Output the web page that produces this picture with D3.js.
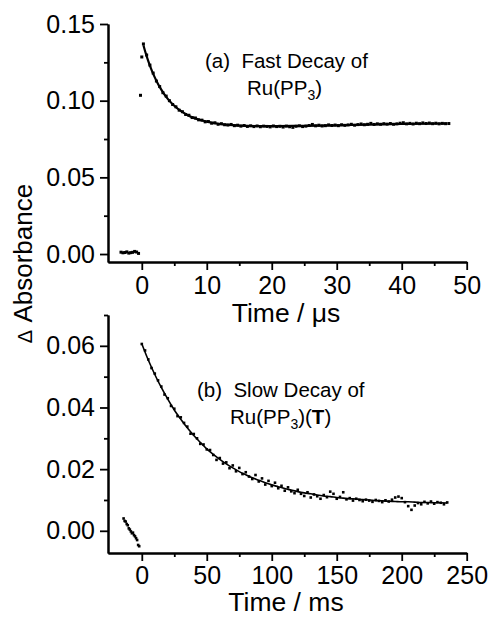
<!DOCTYPE html>
<html><head><meta charset="utf-8">
<script src="https://cdn.jsdelivr.net/npm/d3@7"></script>
<style>
body{margin:0;background:#fff}
svg{display:block;background:#fff}
text{font-family:"Liberation Sans",Arial,sans-serif;fill:#000}
</style>
</head><body>
<svg id="c" width="488" height="618"></svg>
<script>
// ---------- Panel (a): fast decay, time in microseconds ----------
const aXTicks = [0, 10, 20, 30, 40, 50];
const aXMinor = [5, 15, 25, 35, 45];
const aYTicks = [0.00, 0.05, 0.10, 0.15];
const aYMinor = [0.025, 0.075, 0.125];

const aPreT = [-3.2, -2.9, -2.6, -2.3, -2.0, -1.7, -1.4, -1.1, -0.8, -0.5];
const aPreV = [0.0012, 0.0008, 0.0010, 0.0014, 0.0006, 0.0009, 0.0011, 0.0017, 0.0013, 0.0004];
const aSpikeT = [-0.2, 0.0];
const aSpikeV = [0.1035, 0.1285];

const aT = [0.25,0.75,1.25,1.75,2.25,2.75,3.25,3.75,4.25,4.75,5.25,5.75,6.25,6.75,7.25,7.75,8.25,8.75,9.25,9.75,
  10.25,10.75,11.25,11.75,12.25,12.75,13.25,13.75,14.25,14.75,15.25,15.75,16.25,16.75,17.25,17.75,18.25,18.75,19.25,19.75,
  20.25,20.75,21.25,21.75,22.25,22.75,23.25,23.75,24.25,24.75,25.25,25.75,26.25,26.75,27.25,27.75,28.25,28.75,29.25,29.75,
  30.25,30.75,31.25,31.75,32.25,32.75,33.25,33.75,34.25,34.75,35.25,35.75,36.25,36.75,37.25,37.75,38.25,38.75,39.25,39.75,
  40.25,40.75,41.25,41.75,42.25,42.75,43.25,43.75,44.25,44.75,45.25,45.75,46.25,46.75,47.25];
const aV = [0.1370,0.1298,0.1232,0.1180,0.1128,0.1092,0.1052,0.1030,0.1000,0.0975,0.0960,0.0938,0.0928,0.0910,0.0905,0.0890,0.0887,0.0875,0.0873,0.0862,
  0.0864,0.0853,0.0856,0.0846,0.0850,0.0843,0.0841,0.0845,0.0837,0.0840,0.0834,0.0838,0.0832,0.0836,0.0831,0.0835,0.0830,0.0834,0.0832,0.0829,
  0.0835,0.0831,0.0833,0.0828,0.0834,0.0830,0.0826,0.0833,0.0836,0.0831,0.0834,0.0838,0.0845,0.0836,0.0840,0.0835,0.0837,0.0842,0.0838,0.0841,
  0.0837,0.0843,0.0839,0.0842,0.0846,0.0840,0.0844,0.0848,0.0843,0.0846,0.0852,0.0845,0.0849,0.0846,0.0850,0.0847,0.0851,0.0846,0.0849,0.0853,
  0.0856,0.0849,0.0852,0.0848,0.0853,0.0850,0.0855,0.0851,0.0854,0.0850,0.0853,0.0849,0.0852,0.0850,0.0851];

const aFitT = [0.25,0.5,1,1.5,2,2.5,3,3.5,4,5,6,7,8,9,10,12,14,16,20,25,30,35,40,47];
const aFitV = [0.1361,0.1324,0.1258,0.1201,0.1152,0.1109,0.1072,0.1040,0.1012,0.0967,0.0933,0.0907,0.0888,0.0874,0.0863,0.0848,0.0840,0.0836,0.0834,0.0836,0.0839,0.0844,0.0848,0.0851];

// ---------- Panel (b): slow decay, time in milliseconds ----------
const bXTicks = [0, 50, 100, 150, 200, 250];
const bXMinor = [25, 75, 125, 175, 225];
const bYTicks = [0.00, 0.02, 0.04, 0.06];
const bYMinor = [0.01, 0.03, 0.05, 0.07];

const bPreT = [-14, -13.2, -12.4, -11.6, -10.8, -10, -9.2, -8.4, -7.6, -6.8, -6, -5.2, -4.4, -3.6, -2.8, -2];
const bPreV = [0.0040, 0.0032, 0.0030, 0.0022, 0.0018, 0.0008, 0.0004, -0.0002, -0.0008, -0.0006, -0.0014, -0.0018, -0.0024, -0.0030, -0.0046, -0.0050];

const bT = [0,2.5,5,7.5,10,12.5,15,17.5,20,22.5,25,27.5,30,32.5,35,37.5,40,42.5,45,47.5,
  50,52.5,55,57.5,60,62.5,65,67.5,70,72.5,75,77.5,80,82.5,85,87.5,90,92.5,95,97.5,
  100,102.5,105,107.5,110,112.5,115,117.5,120,122.5,125,127.5,130,132.5,135,137.5,140,142.5,145,147.5,
  150,152.5,155,157.5,160,162.5,165,167.5,170,172.5,175,177.5,180,182.5,185,187.5,190,192.5,195,197.5,
  200,202.5,205,207.5,210,212.5,215,217.5,220,222.5,225,227.5,230,232.5,235];
const bV = [0.0606,0.0585,0.0556,0.0528,0.0510,0.0488,0.0468,0.0442,0.0430,0.0405,0.0396,0.0372,0.0368,0.0350,0.0338,0.0315,0.0314,0.0300,0.0282,0.0280,
  0.0264,0.0262,0.0246,0.0230,0.0236,0.0218,0.0222,0.0203,0.0212,0.0193,0.0204,0.0184,0.0190,0.0176,0.0168,0.0181,0.0160,0.0170,0.0150,0.0162,
  0.0145,0.0156,0.0138,0.0146,0.0130,0.0141,0.0128,0.0122,0.0133,0.0120,0.0113,0.0125,0.0108,0.0118,0.0112,0.0104,0.0116,0.0109,0.0127,0.0120,
  0.0104,0.0110,0.0125,0.0102,0.0106,0.0098,0.0104,0.0100,0.0096,0.0101,0.0098,0.0094,0.0100,0.0097,0.0093,0.0099,0.0095,0.0101,0.0108,0.0111,
  0.0106,0.0093,0.0080,0.0068,0.0082,0.0090,0.0086,0.0094,0.0089,0.0095,0.0088,0.0093,0.0091,0.0086,0.0092];

const bFitT = [0,5,10,15,20,25,30,35,40,45,50,55,60,65,70,75,80,85,90,95,100,105,110,115,120,125,130,135,140,145,150,155,160,165,170,175,180,185,190,195,200,205,210,215,220,225,230,235];
const bFitV = [0.0607,0.0554,0.0507,0.0465,0.0427,0.0392,0.0362,0.0334,0.0309,0.0287,0.0266,0.0248,0.0232,0.0217,0.0204,0.0192,0.0182,0.0172,0.0164,0.0156,0.0149,0.0143,0.0137,0.0132,0.0127,0.0123,0.0120,0.0116,0.0113,0.0111,0.0108,0.0106,0.0104,0.0103,0.0101,0.0100,0.0098,0.0097,0.0096,0.0095,0.0094,0.0094,0.0093,0.0092,0.0092,0.0091,0.0091,0.0090];

const svg = d3.select("#c");

function zip(t, v) { return t.map((d, i) => ({t: d, v: v[i]})); }

function panel(cfg) {
  const x = d3.scaleLinear().domain(cfg.xDom).range([108, 466.7]);
  const y = d3.scaleLinear().domain(cfg.yDom).range(cfg.yRange);
  const g = svg.append("g");
  const yb = cfg.yRange[0];

  // minor ticks
  g.append("g").attr("transform", `translate(0,${yb})`)
    .call(d3.axisBottom(x).tickValues(cfg.xMinor).tickSize(4).tickSizeOuter(0).tickFormat(""));
  g.append("g").attr("transform", `translate(108,0)`)
    .call(d3.axisLeft(y).tickValues(cfg.yMinor).tickSize(4).tickSizeOuter(0).tickFormat(""));
  // major axes
  g.append("g").attr("transform", `translate(0,${yb})`)
    .call(d3.axisBottom(x).tickValues(cfg.xTicks).tickSize(8).tickSizeOuter(0).tickPadding(cfg.xPad).tickFormat(d3.format("d")));
  g.append("g").attr("transform", `translate(108,0)`)
    .call(d3.axisLeft(y).tickValues(cfg.yTicks).tickSize(8).tickSizeOuter(0).tickPadding(5).tickFormat(d3.format(".2f")));
  g.selectAll(".domain").attr("stroke", "#000").attr("stroke-width", 2);
  g.selectAll(".tick line").attr("stroke", "#000").attr("stroke-width", 1.8);
  g.selectAll(".tick text").attr("font-size", 25).attr("font-family", "Liberation Sans, Arial, sans-serif").attr("fill", "#000");

  // fit line
  const line = d3.line().x(d => x(d.t)).y(d => y(d.v)).curve(d3.curveMonotoneX);
  g.append("path").datum(zip(cfg.fitT, cfg.fitV)).attr("d", line)
    .attr("fill", "none").attr("stroke", "#000").attr("stroke-width", cfg.fitW);

  // data points
  const pts = [].concat(zip(cfg.preT, cfg.preV), zip(cfg.dT, cfg.dV), cfg.extra || []);
  const s = cfg.ptSize;
  g.append("g").selectAll("rect").data(pts).join("rect")
    .attr("x", d => x(d.t) - s / 2).attr("y", d => y(d.v) - s / 2)
    .attr("width", s).attr("height", s).attr("fill", "#000");

  // axis title
  g.append("text").attr("x", cfg.titleX).attr("y", cfg.titleY).attr("font-size", 26.5)
    .attr("text-anchor", "middle").text(cfg.title);
  return {x, y, g};
}

panel({
  xDom: [-5.2, 50], yDom: [-0.0052, 0.15], yRange: [262, 24], xPad: 6,
  xTicks: aXTicks, xMinor: aXMinor, yTicks: aYTicks, yMinor: aYMinor,
  preT: aPreT, preV: aPreV, dT: aT, dV: aV, extra: zip(aSpikeT, aSpikeV),
  fitT: aFitT, fitV: aFitV, fitW: 2.2, ptSize: 3,
  title: "Time / \u03bcs", titleX: 286, titleY: 322
});

panel({
  xDom: [-26, 250], yDom: [-0.0072, 0.07], yRange: [553, 315], xPad: 5,
  xTicks: bXTicks, xMinor: bXMinor, yTicks: bYTicks, yMinor: bYMinor,
  preT: bPreT, preV: bPreV, dT: bT, dV: bV,
  fitT: bFitT, fitV: bFitV, fitW: 1.6, ptSize: 2.6,
  title: "Time / ms", titleX: 286, titleY: 611
});

// y title
const yt = svg.append("text").attr("transform", "translate(32,263.5) rotate(-90)")
  .attr("text-anchor", "middle").attr("font-size", 26);
yt.append("tspan").attr("font-size", 20).text("\u0394");
yt.append("tspan").text("\u00a0Absorbance");

// annotations
const ann = svg.append("g").attr("font-size", 20.5);
ann.append("text").attr("x", 205).attr("y", 68).text("(a)\u00a0\u00a0Fast Decay of");
const ra = ann.append("text").attr("x", 247).attr("y", 95);
ra.append("tspan").text("Ru(PP");
ra.append("tspan").attr("font-size", 14).attr("dy", 5).text("3");
ra.append("tspan").attr("dy", -5).text(")");

ann.append("text").attr("x", 197).attr("y", 397).text("(b)\u00a0\u00a0Slow Decay of");
const rb = ann.append("text").attr("x", 230).attr("y", 424);
rb.append("tspan").text("Ru(PP");
rb.append("tspan").attr("font-size", 14).attr("dy", 5).text("3");
rb.append("tspan").attr("dy", -5).text(")(");
rb.append("tspan").attr("font-weight", "bold").text("T");
rb.append("tspan").text(")");
</script>
</body></html>
